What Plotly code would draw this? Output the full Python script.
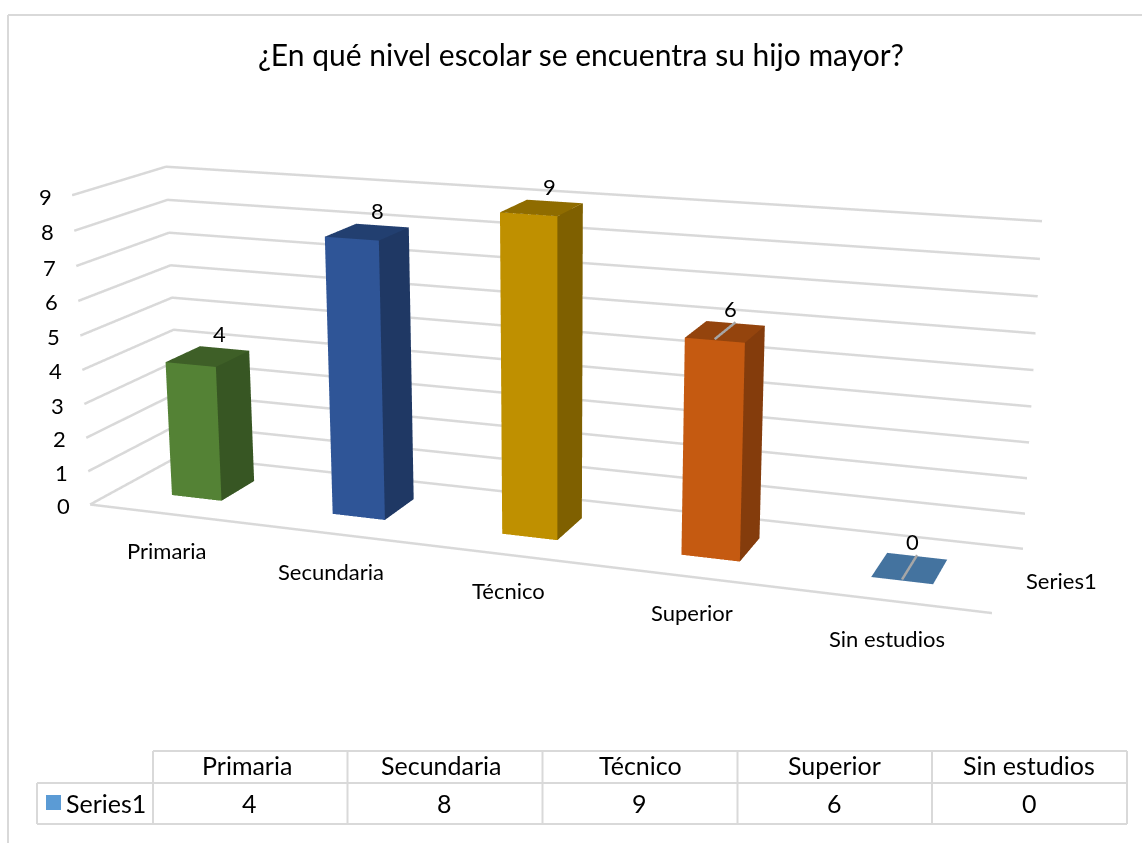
import plotly.graph_objects as go

# ---- data ----
categories = ["Primaria", "Secundaria", "Técnico", "Superior", "Sin estudios"]
values = [4, 8, 9, 6, 0]
series_name = "Series1"
title_text = "¿En qué nivel escolar se encuentra su hijo mayor?"
tick_values = [0, 1, 2, 3, 4, 5, 6, 7, 8, 9]
leader_values = [False, False, False, True, True]
front_colors = ["#548235", "#2F5597", "#BF9000", "#C55A11", "#44739F"]
side_colors = ["#375623", "#1F3864", "#7F6000", "#843C0C", "#44739F"]
top_colors = ["#3E5F27", "#223F70", "#8F6C00", "#94440D", "#44739F"]

# ---- layout / camera (fitted to the reference view) ----
FW, FH = 1180, 1832          # figure is larger than the window: long-lens view
OX, OY = 32, 516             # offset of the window inside the figure
BAR_HALF, Y_FRONT, Y_BACK = 0.157, 0.305, 0.696
GRID = "#D9D9D9"
FONT = "Lato, Carlito, Calibri, sans-serif"
INK = "#000000"


def px(x):
    return (x + OX) / FW


def py(y):
    return 1 - (y + OY) / FH


fig = go.Figure()

# wall grid lines
for t in tick_values:
    fig.add_trace(go.Scatter3d(x=[0, 0, len(categories)], y=[0, 1, 1], z=[t, t, t], mode="lines",
                               line=dict(color=GRID, width=5), hoverinfo="skip", showlegend=False))
fig.add_trace(go.Scatter3d(x=[0, len(categories)], y=[0, 0], z=[0, 0], mode="lines",
                           line=dict(color=GRID, width=5), hoverinfo="skip", showlegend=False))

# bars
for i, v in enumerate(values):
    x0, x1 = i + 0.5 - BAR_HALF, i + 0.5 + BAR_HALF
    y0, y1 = Y_FRONT, Y_BACK
    xs = [x0, x1, x1, x0, x0, x1, x1, x0]
    ys = [y0, y0, y1, y1, y0, y0, y1, y1]
    zs = [0, 0, 0, 0, v, v, v, v]
    I = [0, 0, 1, 1, 4, 4]
    J = [1, 5, 2, 6, 5, 6]
    K = [5, 4, 6, 5, 6, 7]
    fc = [front_colors[i]] * 2 + [side_colors[i]] * 2 + [top_colors[i]] * 2
    fig.add_trace(go.Mesh3d(x=xs, y=ys, z=zs, i=I, j=J, k=K, facecolor=fc, flatshading=True,
                            lighting=dict(ambient=1, diffuse=0, specular=0, fresnel=0, roughness=1),
                            hoverinfo="skip", showscale=False))
    if leader_values[i]:
        fig.add_trace(go.Scatter3d(x=[i + 0.5, i + 0.5], y=[y0, y1], z=[v + 0.03, v + 0.03], mode="lines",
                                   line=dict(color="#A6A6A6", width=5), hoverinfo="skip", showlegend=False))

# scene annotations: value ticks and data labels
scene_ann = []
for t in tick_values:
    scene_ann.append(dict(x=0, y=0, z=t, text=str(t), showarrow=False, xanchor="center", yanchor="middle",
                          xshift=-27, yshift=-1, font=dict(family=FONT, size=22, color=INK)))
for i, v in enumerate(values):
    scene_ann.append(dict(x=i + 0.5, y=Y_BACK, z=v, text=str(v), showarrow=False, xanchor="center",
                          yanchor="middle", xshift=-5, yshift=15, font=dict(family=FONT, size=22, color=INK)))

# page-level text
ann = []
cat_pos = [(167, 550), (331, 571), (508, 590), (692, 612), (887, 638)]
for c, (a, b) in zip(categories, cat_pos):
    ann.append(dict(x=px(a), y=py(b), text=c, font=dict(size=22)))
ann.append(dict(x=px(1061), y=py(580), text=series_name, font=dict(size=22)))
hdr_x = [247, 441, 640, 834, 1029]
val_x = [249, 444, 639, 834, 1029]
for c, v, a, b in zip(categories, values, hdr_x, val_x):
    ann.append(dict(x=px(a), y=py(765), text=c, font=dict(size=25)))
    ann.append(dict(x=px(b), y=py(803), text=str(v), font=dict(size=25)))
ann.append(dict(x=px(106), y=py(803), text=series_name, font=dict(size=25)))
for a in ann:
    a.update(xref="paper", yref="paper", showarrow=False, xanchor="center", yanchor="middle")
    a["font"].update(family=FONT, color=INK)

# table frame, chart border
shapes = []


def seg(x0, y0, x1, y1):
    shapes.append(dict(type="line", xref="paper", yref="paper", x0=px(x0), y0=py(y0), x1=px(x1), y1=py(y1),
                       line=dict(color=GRID, width=2), layer="above"))


seg(8, 15, 1148, 15)
seg(8, 15, 8, 850)
seg(153, 751, 1127, 751)
seg(37, 783, 1127, 783)
seg(37, 824, 1127, 824)
seg(37, 783, 37, 824)
for x in [153, 347.5, 542.5, 737.5, 932, 1127]:
    seg(x, 751, x, 824)
shapes.append(dict(type="rect", xref="paper", yref="paper", x0=px(46), x1=px(61), y0=py(795), y1=py(810),
                   fillcolor="#5B9BD5", line=dict(width=0), layer="above"))

hidden = dict(visible=False, showgrid=False, zeroline=False, showspikes=False)
fig.update_layout(
    width=FW, height=FH, autosize=False, paper_bgcolor="white", plot_bgcolor="white",
    margin=dict(l=0, r=0, t=0, b=0, pad=0), showlegend=False,
    title=dict(text=title_text, x=px(581), y=py(55), xref="paper", yref="paper", xanchor="center", yanchor="middle",
               font=dict(family=FONT, size=30, color=INK)),
    annotations=ann, shapes=shapes,
    scene=dict(
        domain=dict(x=[0, 1], y=[0, 1]),
        xaxis=dict(range=[0, len(categories)], **hidden),
        yaxis=dict(range=[0, 1], **hidden),
        zaxis=dict(range=[0, tick_values[-1]], **hidden),
        aspectmode="manual", aspectratio=dict(x=1, y=0.2013, z=0.3484),
        camera=dict(eye=dict(x=0.7871, y=-2.1306, z=0.5869), center=dict(x=0.4595, y=-1.2232, z=0.3236),
                    up=dict(x=0, y=0, z=1), projection=dict(type="perspective")),
        annotations=scene_ann,
        bgcolor="white",
    ),
)

post = ("document.documentElement.style.overflow='hidden';document.body.style.margin='0';"
        "document.body.style.overflow='hidden';var g=document.getElementById('{plot_id}');"
        "g.style.position='absolute';g.style.left='-%dpx';g.style.top='-%dpx';" % (OX, OY))
fig.write_html("out.html", post_script=post, config=dict(displayModeBar=False))
